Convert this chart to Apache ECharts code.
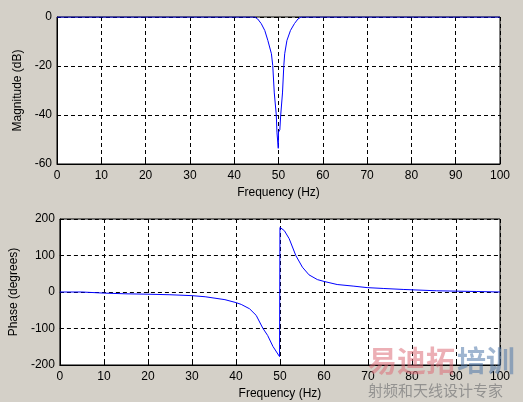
<!DOCTYPE html>
<html>
<head>
<meta charset="utf-8">
<script src="https://cdn.jsdelivr.net/npm/echarts@6/dist/echarts.min.js"></script>
<style>
html,body{margin:0;padding:0;background:#d4d0c8;}
#c{width:523px;height:402px;}
</style>
</head>
<body>
<div id="c"></div>
<script>
// Magnitude response (dB)
var magFreq = [0, 10, 20, 30, 40, 44.6, 45.3, 46.1, 46.9, 47.6, 48.4, 48.7, 49.05, 49.5, 49.65, 49.95, 50.0, 50.3, 50.5, 50.9, 51.2, 51.4, 51.9, 52.7, 53.6, 54.4, 55.1, 60, 70, 80, 90, 100];
var magDb   = [0, 0, 0, 0, 0, 0, -0.8, -2.7, -5.5, -9.6, -15, -19.8, -31, -40, -47, -53.6, -47, -46, -40, -31, -19.8, -15, -9.6, -5.5, -2.7, -0.8, 0, 0, 0, 0, 0, 0];
// Phase response (degrees)
var phFreq = [0, 5, 5.1, 10, 15, 20, 25, 30, 33, 37.5, 40, 41.2, 43.1, 44.6, 46.1, 47.2, 48.4, 49.9, 50.0, 51.0, 52.1, 53.6, 55.1, 56.6, 58.5, 60, 63, 66.8, 69.8, 73.6, 78, 85.6, 94.6, 95, 100];
var phDeg  = [0, 0, -2.5, -3, -5, -6, -7.5, -10, -13, -21, -29, -34, -46, -64, -99, -119, -149, -177, 177, 168, 146, 100, 68, 47, 34, 29, 20.5, 16, 12, 9.6, 7, 3.3, 1.4, 0, 0];
// Axis ticks
var xTicks = {min: 0, max: 100, interval: 10};
var magTicks = {min: -60, max: 0, interval: 20};
var phTicks = {min: -200, max: 200, interval: 100};

function pairs(xs, ys){ return xs.map(function(x,i){ return [x, ys[i]]; }); }

var font = 'Liberation Sans, Arial, sans-serif';
var labelStyle = {color:'#000', fontSize:12, fontFamily:font};
var gridLine = {show:true, lineStyle:{color:'#000', type:[4,3], width:1}};

function xAx(idx){
  return {type:'value', gridIndex:idx, min:xTicks.min, max:xTicks.max, interval:xTicks.interval,
    name:'Frequency (Hz)', nameLocation:'middle', nameGap:23,
    nameTextStyle:{color:'#000', fontSize:12, fontFamily:font},
    axisLine:{show:true, onZero:false, lineStyle:{color:'#000', width:1}},
    axisTick:{show:true, inside:true, length:4, lineStyle:{color:'#000'}},
    axisLabel:Object.assign({margin:6}, labelStyle),
    splitLine:gridLine};
}
function yAx(idx, t, name, gap){
  return {type:'value', gridIndex:idx, min:t.min, max:t.max, interval:t.interval,
    name:name, nameLocation:'middle', nameGap:gap, nameRotate:90,
    nameTextStyle:{color:'#000', fontSize:12, fontFamily:font},
    axisLine:{show:true, onZero:false, lineStyle:{color:'#000', width:1}},
    axisTick:{show:true, inside:true, length:4, lineStyle:{color:'#000'}},
    axisLabel:Object.assign({margin:5}, labelStyle),
    splitLine:gridLine};
}

var chart = echarts.init(document.getElementById('c'), null, {renderer:'canvas'});
chart.setOption({
  animation:false,
  backgroundColor:'#d4d0c8',
  grid:[
    {left:57, top:17, width:443, height:147, show:true, backgroundColor:'#fff', borderColor:'#000', borderWidth:1},
    {left:57, top:219, width:443, height:146, show:true, backgroundColor:'#fff', borderColor:'#000', borderWidth:1}
  ],
  xAxis:[xAx(0), xAx(1)],
  yAxis:[yAx(0, magTicks, 'Magnitude (dB)', 30), yAx(1, phTicks, 'Phase (degrees)', 37)],
  series:[
    {type:'line', xAxisIndex:0, yAxisIndex:0, data:pairs(magFreq, magDb), showSymbol:false, symbol:'none',
     lineStyle:{color:'#0000ff', width:1}, z:5},
    {type:'line', xAxisIndex:1, yAxisIndex:1, data:pairs(phFreq, phDeg), showSymbol:false, symbol:'none',
     lineStyle:{color:'#0000ff', width:1}, z:5}
  ],
  graphic:[
    {type:'text', left:368, top:346, z:100, style:{text:'易迪拓', font:'bold 29px "Noto Sans CJK SC"', fill:'rgba(220,110,120,0.55)'}},
    {type:'text', left:457, top:346, z:100, style:{text:'培训', font:'bold 29px "Noto Sans CJK SC"', fill:'rgba(80,120,170,0.55)'}},
    {type:'text', left:368, top:383, z:100, style:{text:'射频和天线设计专家', font:'15px "Noto Sans CJK SC"', fill:'rgba(130,130,130,0.8)'}}
  ]
});
</script>
</body>
</html>
